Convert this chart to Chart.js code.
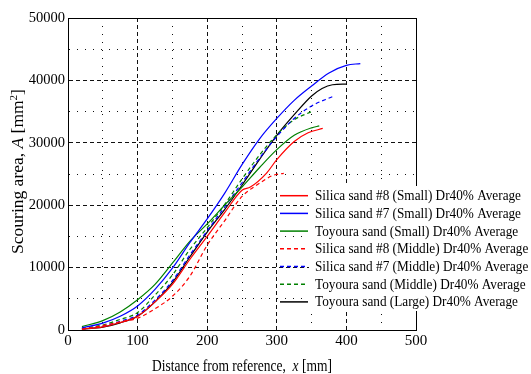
<!DOCTYPE html>
<html>
<head>
<meta charset="utf-8">
<script src="https://cdn.jsdelivr.net/npm/chart.js@4/dist/chart.umd.min.js"></script>
<style>
  html, body { margin: 0; padding: 0; background: #fff; }
</style>
</head>
<body>
<canvas id="scourChart" width="531" height="374"></canvas>
<script>
// Series data: distance from reference x [mm] and scouring area A [mm^2]
const silica8SmallX = [20, 50, 75, 100, 125, 150, 175, 200, 225, 250, 262, 285, 300, 325, 345, 366];
const silica8SmallA = [150, 500, 1200, 2200, 4500, 7300, 11300, 15000, 18800, 22400, 22900, 25100, 27300, 30200, 31600, 32300];

const silica7SmallX = [20, 50, 75, 100, 125, 150, 175, 200, 225, 250, 275, 300, 325, 350, 375, 400, 420];
const silica7SmallA = [350, 1100, 2200, 3850, 6500, 9900, 14000, 17800, 21900, 26500, 30600, 33900, 36800, 39100, 41200, 42400, 42700];

const toyouraSmallX = [20, 50, 75, 100, 125, 150, 175, 200, 225, 250, 275, 300, 325, 350, 361];
const toyouraSmallA = [550, 1500, 2900, 4850, 7300, 10700, 14200, 17000, 20000, 22900, 26000, 28900, 31200, 32400, 32700];

const silica8MiddleX = [20, 50, 75, 100, 125, 150, 175, 200, 225, 250, 275, 295, 310];
const silica8MiddleA = [100, 700, 1300, 1900, 3400, 5400, 8600, 13600, 17500, 21400, 23500, 24800, 25100];

const silica7MiddleX = [20, 50, 75, 100, 125, 150, 175, 200, 225, 250, 275, 300, 325, 350, 380];
const silica7MiddleA = [150, 600, 1400, 2400, 4800, 7900, 12000, 15900, 19700, 23600, 27500, 31000, 33900, 35900, 37400];

const toyouraMiddleX = [20, 50, 75, 100, 125, 150, 175, 200, 225, 250, 275, 300, 325, 350];
const toyouraMiddleA = [250, 800, 1700, 2800, 5600, 8800, 12900, 16400, 20100, 24200, 28000, 31300, 33700, 35000];

const toyouraLargeX = [20, 50, 75, 100, 125, 150, 175, 200, 225, 250, 275, 300, 325, 350, 365, 380, 400];
const toyouraLargeA = [150, 450, 1150, 2200, 4500, 7600, 11700, 15700, 19300, 23200, 27300, 31200, 34500, 37500, 38700, 39300, 39400];

const seriesLabels = [
  'Silica sand #8 (Small) Dr40% Average',
  'Silica sand #7 (Small) Dr40% Average',
  'Toyoura sand (Small) Dr40% Average',
  'Silica sand #8 (Middle) Dr40% Average',
  'Silica sand #7 (Middle) Dr40% Average',
  'Toyoura sand (Middle) Dr40% Average',
  'Toyoura sand (Large) Dr40% Average'
];

const xTicksMajor = [0, 100, 200, 300, 400, 500];
const yTicksMajor = [0, 10000, 20000, 30000, 40000, 50000];

const serif = "'Liberation Serif', 'Times New Roman', serif";

function toPoints(xs, as) {
  return xs.map((x, i) => ({ x: x, y: as[i] }));
}

function makeSet(label, xs, as, color, dashed) {
  return {
    label: label,
    data: toPoints(xs, as),
    borderColor: color,
    backgroundColor: color,
    borderWidth: 1.2,
    borderDash: dashed ? [4, 3] : [],
    pointRadius: 0,
    fill: false,
    cubicInterpolationMode: 'monotone'
  };
}

// Grid: dashed at major ticks, dotted at the minor ones
function gridDash(ctx, majors) {
  if (!ctx.tick) return [];
  return majors.includes(ctx.tick.value) ? [4, 3] : [1, 7];
}

// text in the original is tall and a bit narrow, so squeeze it to a target width
function squeezedText(ctx, text, x, y, font, width) {
  ctx.font = font;
  const w = ctx.measureText(text).width;
  ctx.save();
  ctx.translate(x, y);
  ctx.scale(width / w, 1);
  ctx.fillText(text, 0, 0);
  ctx.restore();
}

// Legend drawn by hand so it can sit over the plot like the original
const frameAndLegend = {
  id: 'frameAndLegend',
  afterDatasetsDraw(chart) {
    const ctx = chart.ctx;
    const a = chart.chartArea;
    ctx.save();
    ctx.strokeStyle = '#000';
    ctx.lineWidth = 1;
    ctx.setLineDash([]);
    ctx.beginPath();
    ctx.moveTo(a.left, a.top + 0.5);
    ctx.lineTo(a.right + 0.5, a.top + 0.5);
    ctx.lineTo(a.right + 0.5, a.bottom);
    ctx.stroke();

    ctx.fillStyle = '#fff';
    ctx.fillRect(309, 186, 531 - 309, 125);

    const font = '15px ' + serif;
    ctx.font = font;
    ctx.textBaseline = 'middle';
    ctx.textAlign = 'left';
    ctx.font = font;
    const refW = ctx.measureText(seriesLabels[0]).width;
    const sx = 206 / refW;
    chart.data.datasets.forEach((ds, i) => {
      const y = 195.7 + i * 17.7;
      ctx.strokeStyle = ds.borderColor;
      ctx.lineWidth = 1.5;
      ctx.setLineDash(ds.borderDash);
      ctx.beginPath();
      ctx.moveTo(280, y);
      ctx.lineTo(308, y);
      ctx.stroke();
      ctx.fillStyle = '#000';
      ctx.save();
      ctx.translate(315, y + 0.5);
      ctx.scale(sx, 1);
      ctx.fillText(ds.label, 0, 0);
      ctx.restore();
    });
    ctx.restore();
  },
  afterDraw(chart) {
    const ctx = chart.ctx;
    const a = chart.chartArea;
    ctx.save();
    ctx.fillStyle = '#000';
    ctx.textBaseline = 'alphabetic';
    ctx.textAlign = 'left';

    // x title, squeezed to the original width
    let normal = '16.5px ' + serif;
    let italic = 'italic 16.5px ' + serif;
    let parts = [['Distance from reference,  ', normal, 0], ['x', italic, 0], [' [mm]', normal, 0]];
    ctx.save();
    ctx.translate((a.left + a.right) / 2, 371);
    ctx.scale(180 / partsWidth(ctx, parts), 1);
    drawParts(ctx, parts, 0, 0);
    ctx.restore();

    // y title, rotated
    normal = '17.5px ' + serif;
    italic = 'italic 17.5px ' + serif;
    const small = '11px ' + serif;
    ctx.translate(23, 171.5);
    ctx.rotate(-Math.PI / 2);
    ctx.scale(1, 0.9);
    parts = [['Scouring area, ', normal, 0], ['A', italic, 0], [' [mm', normal, 0], ['2', small, -7], [']', normal, 0]];
    drawParts(ctx, parts, 0, 0);
    ctx.restore();
  }
};

function partsWidth(ctx, parts) {
  let total = 0;
  parts.forEach(p => { ctx.font = p[1]; total += ctx.measureText(p[0]).width; });
  return total;
}

function drawParts(ctx, parts, cx, y) {
  let x = cx - partsWidth(ctx, parts) / 2;
  parts.forEach(p => {
    ctx.font = p[1];
    ctx.fillText(p[0], x, y + p[2]);
    x += ctx.measureText(p[0]).width;
  });
}

const chartCtx = document.getElementById('scourChart').getContext('2d');

new Chart(chartCtx, {
  type: 'line',
  data: {
    datasets: [
      makeSet(seriesLabels[0], silica8SmallX, silica8SmallA, '#ff0000', false),
      makeSet(seriesLabels[1], silica7SmallX, silica7SmallA, '#0000ff', false),
      makeSet(seriesLabels[2], toyouraSmallX, toyouraSmallA, '#008000', false),
      makeSet(seriesLabels[3], silica8MiddleX, silica8MiddleA, '#ff0000', true),
      makeSet(seriesLabels[4], silica7MiddleX, silica7MiddleA, '#0000ff', true),
      makeSet(seriesLabels[5], toyouraMiddleX, toyouraMiddleA, '#008000', true),
      makeSet(seriesLabels[6], toyouraLargeX, toyouraLargeA, '#000000', false)
    ]
  },
  options: {
    responsive: false,
    animation: false,
    layout: { padding: { left: 0, right: 115, top: 18, bottom: 0 } },
    plugins: {
      legend: { display: false },
      tooltip: { enabled: false }
    },
    scales: {
      x: {
        type: 'linear',
        min: 0,
        max: 500,
        ticks: {
          stepSize: 50,
          autoSkip: false,
          maxRotation: 0,
          padding: 2,
          color: '#000',
          font: { family: serif, size: 15 },
          callback: v => xTicksMajor.includes(v) ? String(v) : ''
        },
        grid: { color: '#111', lineWidth: 1, drawTicks: false },
        border: { display: true, color: '#000', width: 1, dash: ctx => gridDash(ctx, xTicksMajor) },
        afterFit: scale => { scale.height = 44; }
      },
      y: {
        min: 0,
        max: 50000,
        ticks: {
          stepSize: 5000,
          autoSkip: false,
          padding: 3,
          color: '#000',
          font: { family: serif, size: 14.5 },
          callback: v => yTicksMajor.includes(v) ? String(v) : ''
        },
        grid: { color: '#111', lineWidth: 1, drawTicks: false },
        border: { display: true, color: '#000', width: 1, dash: ctx => gridDash(ctx, yTicksMajor) },
        afterFit: scale => { scale.width = 68; }
      }
    }
  },
  plugins: [frameAndLegend]
});
</script>
</body>
</html>
